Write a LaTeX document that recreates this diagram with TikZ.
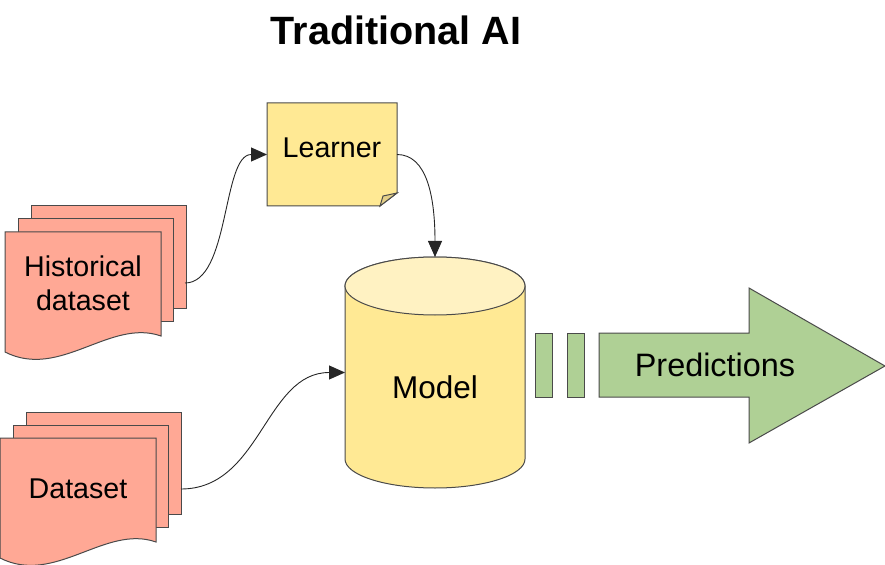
\documentclass[tikz,border=0pt]{standalone}
\usepackage{fontspec}
\setmainfont{Liberation Sans}
\usetikzlibrary{arrows.meta}
\definecolor{docfill}{HTML}{FFA895}
\definecolor{notefill}{HTML}{FFE994}
\definecolor{foldfill}{HTML}{E3CF88}
\definecolor{cyltop}{HTML}{FFF2C2}
\definecolor{arrowfill}{HTML}{AFD095}
\definecolor{edge}{HTML}{4A4A4A}
\tikzset{
  shapeline/.style={draw=edge, line width=1bp, line join=miter},
  sheet/.style={shapeline, fill=docfill},
  notebox/.style={shapeline, fill=notefill},
  anchorbox/.style={draw=none, inner sep=0pt, outer sep=0pt},
  lbl/.style={inner sep=0pt, align=center, font=\fontsize{28.6bp}{34bp}\selectfont},
  conn/.style={draw=black!85, line width=0.9bp, -{Triangle[length=16bp,width=14bp]}},
  docstack/.pic={
    \filldraw[sheet] (26,0) rectangle (181,102);
    \filldraw[sheet] (13,13) rectangle (168,115);
    \filldraw[sheet] (0,26) -- (156,26) -- (156,130)
      .. controls (105,112) and (55,174) .. (0,146) -- cycle;
  }
}
\begin{document}
\begin{tikzpicture}[x=1bp,y=-1bp]
\useasboundingbox (0,0) rectangle (885,565);

% title
\node[inner sep=0pt, font=\fontsize{39.5bp}{44bp}\selectfont\bfseries] (title) at (396,30) {Traditional AI};

% historical dataset stack
\pic at (5,206) {docstack};
\node[anchorbox, minimum width=180bp, minimum height=154bp] (hist) at (95,283) {};
\node[lbl] (histtext) at (83,283) {Historical\\dataset};

% dataset stack
\pic at (0,412) {docstack};
\node[anchorbox, minimum width=181bp, minimum height=154bp] (data) at (90.5,489) {};
\node[lbl] (datatext) at (78,489) {Dataset};

% learner note
\node[anchorbox, minimum width=130bp, minimum height=103bp] (learner) at (332,154.5) {};
\filldraw[notebox] (267,103) -- (397,103) -- (397,193) -- (380,206) -- (267,206) -- cycle;
\filldraw[shapeline, fill=foldfill] (380,206) -- (383,196) -- (397,193) -- cycle;
\node[lbl] (learnertext) at (332,148) {Learner};

% model cylinder
\node[anchorbox, minimum width=180bp, minimum height=231bp] (model) at (435,372.5) {};
\filldraw[shapeline, fill=notefill] (345,286) -- (345,459)
  arc[start angle=180, end angle=360, x radius=90bp, y radius=29bp]
  -- (525,286)
  arc[start angle=0, end angle=180, x radius=90bp, y radius=29bp] -- cycle;
\filldraw[shapeline, fill=cyltop] (435,286) ellipse [x radius=90bp, y radius=29bp];
\node[inner sep=0pt, font=\fontsize{31.5bp}{36bp}\selectfont] (modeltext) at (435,387) {Model};

% predictions arrow
\filldraw[shapeline, fill=arrowfill] (535,333) rectangle (552,397);
\filldraw[shapeline, fill=arrowfill] (567,333) rectangle (584,397);
\filldraw[shapeline, fill=arrowfill] (599,333) -- (749,333) -- (749,288) -- (885,366)
  -- (749,443) -- (749,397) -- (599,397) -- cycle;
\node[inner sep=0pt, font=\fontsize{32.4bp}{36bp}\selectfont] (pred) at (715,365) {Predictions};

% connectors
\draw[conn] (hist.east) .. controls +(45,0) and +(-45,0) .. (learner.west);
\draw[conn] (learner.east) .. controls +(30,0) and +(0,-60) .. (model.north);
\draw[conn] (data.east) .. controls +(80,0) and +(-80,0) .. (model.west);
\end{tikzpicture}
\end{document}
